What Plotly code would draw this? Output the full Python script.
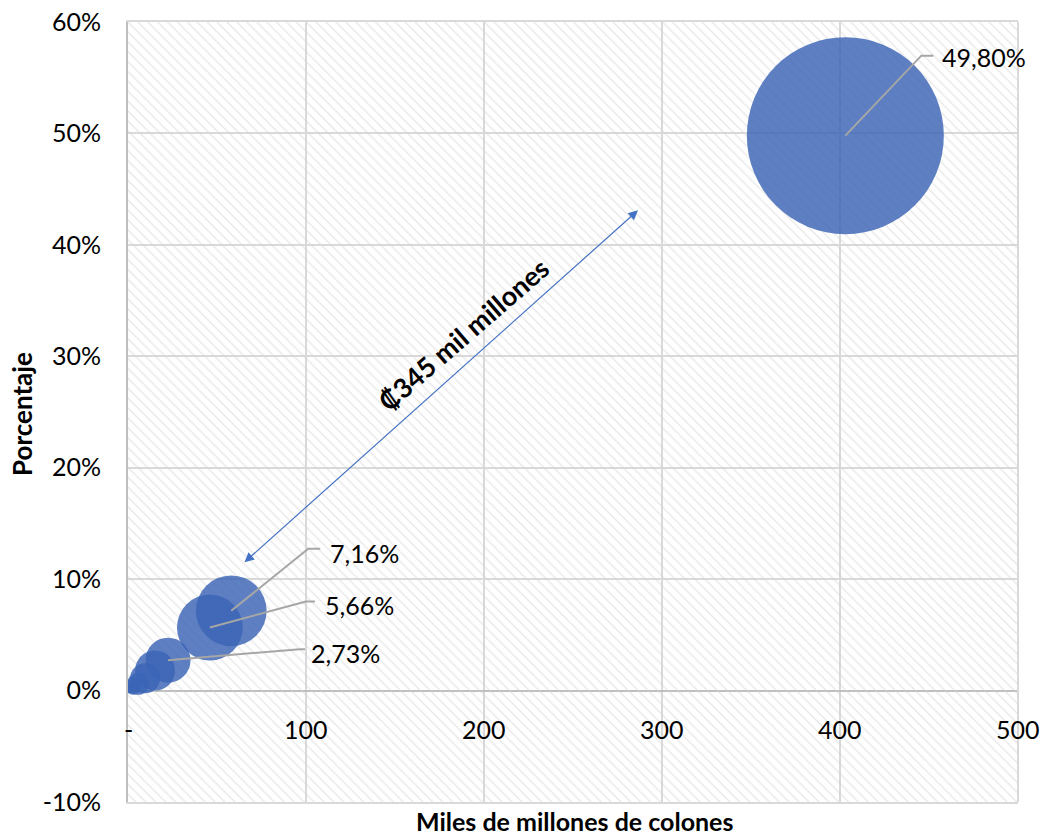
import plotly.graph_objects as go

# Amount (miles de millones de colones), share and bubble size per group
amounts = [403.0, 58.0, 46.0, 22.5, 15.2, 9.6, 5.6, 2.8, 1.1]
shares = [49.80, 7.16, 5.66, 2.73, 1.8, 1.1, 0.6, 0.35, 0.2]
sizes = [403.0, 52.0, 45.0, 21.0, 16.6, 9.3, 5.0, 2.7, 1.0]
share_labels = ["49,80%", "7,16%", "5,66%", "2,73%", "", "", "", "", ""]

x_ticks = [0, 100, 200, 300, 400, 500]
x_tick_text = ["-", "100", "200", "300", "400", "500"]
y_ticks = [-10, 0, 10, 20, 30, 40, 50, 60]
y_tick_text = ["-10%", "0%", "10%", "20%", "30%", "40%", "50%", "60%"]

gap_text = "₡345 mil millones"

W, H = 1044, 837
ML, MR, MT, MB = 128, 26, 22, 35
XR = (0, 500)
YR = (-10, 60)
px_x = (W - ML - MR) / (XR[1] - XR[0])
px_y = (H - MT - MB) / (YR[1] - YR[0])
PW = W - ML - MR
PH = H - MT - MB

FONT = "Lato, 'DejaVu Sans', sans-serif"
BLUE = "#4472C4"
GRID = "#d9d9d9"
LEADER = "#a6a6a6"

fig = go.Figure()

# hatched plot background
fig.add_trace(go.Scatter(
    x=[XR[0], XR[1], XR[1], XR[0], XR[0]],
    y=[YR[0], YR[0], YR[1], YR[1], YR[0]],
    mode="lines", line=dict(width=0),
    fill="toself", fillcolor="rgba(0,0,0,0)",
    fillpattern=dict(shape="\\", fgcolor="#d2d2d2", bgcolor="rgba(0,0,0,0)",
                     size=7, solidity=0.2),
    hoverinfo="skip", showlegend=False,
))

max_d = 197
fig.add_trace(go.Scatter(
    x=amounts, y=shares, mode="markers",
    marker=dict(size=sizes, sizemode="area",
                sizeref=2 * max(sizes) / max_d ** 2,
                color="rgba(58,100,182,0.82)", opacity=1, line=dict(width=0)),
    showlegend=False,
))

annotations = []
shapes = []

# data labels with elbow leader lines (offsets in pixels)
leaders = {
    "49,80%": (76, 80, 88, 95, 79),
    "7,16%": (77, 62, 89, 97, 58),
    "5,66%": (96, 26, 105, 113, 23),
    "2,73%": (132, 11, 137, 141, 7),
}
for xv, yv, lab in zip(amounts, shares, share_labels):
    if not lab:
        continue
    ex, ey, hx, tx, ty = leaders[lab]
    x1, y1 = xv + ex / px_x, yv + ey / px_y
    x2 = xv + hx / px_x
    shapes.append(dict(type="path", xref="x", yref="y",
                       path=f"M{xv},{yv} L{x1},{y1} L{x2},{y1}",
                       line=dict(color=LEADER, width=2)))
    annotations.append(dict(x=xv + tx / px_x, y=yv + ty / px_y, xref="x", yref="y",
                            text=lab, showarrow=False, xanchor="left", yanchor="middle",
                            font=dict(family=FONT, size=25, color="#000")))

# x tick labels sit under the zero line
for v, t in zip(x_ticks, x_tick_text):
    annotations.append(dict(x=v, y=0, xref="x", yref="y", text=t, showarrow=False,
                            yshift=-38, xanchor="center", yanchor="middle",
                            font=dict(family=FONT, size=25, color="#000")))

# double-headed arrow for the gap between the two largest groups
annotations.append(dict(x=286.5, y=43.1, ax=64.6, ay=11.4, xref="x", yref="y",
                        axref="x", ayref="y", text="", showarrow=True,
                        arrowhead=2, startarrowhead=2, arrowside="end+start",
                        arrowsize=1.6, startarrowsize=1.6, arrowwidth=1.2,
                        arrowcolor=BLUE))
annotations.append(dict(x=(463 - ML) / px_x, y=(690 - 334) / px_y, xref="x", yref="y",
                        text=f"<b>{gap_text}</b>",
                        showarrow=False, textangle=-41,
                        font=dict(family=FONT, size=27, color="#000")))

# axis titles
annotations.append(dict(x=(5 - ML) / PW, y=(H - MB - 414) / PH,
                        xref="paper", yref="paper", text="<b>Porcentaje</b>",
                        showarrow=False, textangle=-90, xanchor="left", yanchor="middle",
                        borderpad=0,
                        font=dict(family=FONT, size=26, color="#000")))
annotations.append(dict(x=(574 - ML) / PW, y=(H - MB - 837) / PH,
                        xref="paper", yref="paper", text="<b>Miles de millones de colones</b>",
                        showarrow=False, yanchor="bottom", borderpad=0,
                        font=dict(family=FONT, size=25, color="#000")))

# right border
shapes.append(dict(type="line", xref="x domain", yref="y domain", x0=1, x1=1, y0=0, y1=1,
                   line=dict(color=GRID, width=2)))

fig.update_layout(
    width=W, height=H,
    margin=dict(l=ML, r=MR, t=MT, b=MB, autoexpand=False),
    paper_bgcolor="white", plot_bgcolor="white",
    showlegend=False,
    annotations=annotations,
    shapes=shapes,
    xaxis=dict(range=list(XR), tickvals=x_ticks, showticklabels=False, automargin=False,
               showgrid=True, gridcolor=GRID, gridwidth=2, zeroline=False,
               showline=True, linecolor=GRID, linewidth=2, mirror=True, ticks=""),
    yaxis=dict(range=list(YR), tickvals=y_ticks, ticktext=y_tick_text, automargin=False,
               showgrid=True, gridcolor=GRID, gridwidth=2,
               zeroline=True, zerolinecolor="#bfbfbf", zerolinewidth=2,
               showline=True, linecolor="#bfbfbf", linewidth=2,
               ticks="outside", ticklen=20, tickcolor="rgba(0,0,0,0)",
               tickfont=dict(family=FONT, size=25, color="#000")),
)

fig.write_html("out.html")
